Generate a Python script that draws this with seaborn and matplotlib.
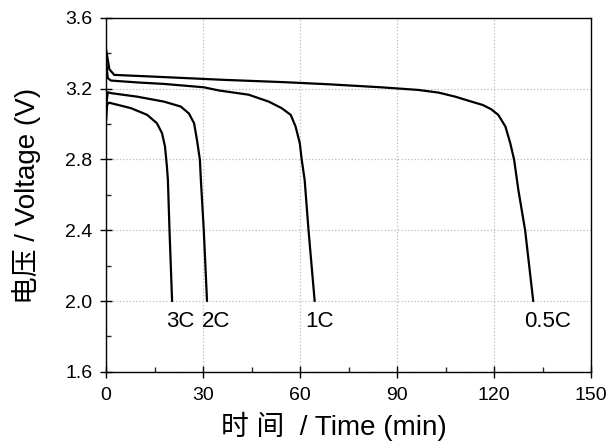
import numpy as np
import pandas as pd
import matplotlib
matplotlib.use('Agg')
import matplotlib.pyplot as plt
from matplotlib.ticker import MultipleLocator, FormatStrFormatter
import seaborn as sns

# discharge curves (time in min, voltage in V)
rates = ['0.5C', '1C', '2C', '3C']

t_05 = [0, 1.0, 2.5, 15, 36.4, 55, 68.8, 85, 96.6, 102.8, 108, 113, 116.5,
        119.1, 121.3, 123.5, 125, 126.2, 127.5, 129.6, 132.1]
v_05 = [3.42, 3.31, 3.278, 3.268, 3.25, 3.237, 3.225, 3.208, 3.193, 3.178, 3.155, 3.127, 3.108,
        3.084, 3.052, 2.986, 2.892, 2.798, 2.628, 2.40, 2.00]

t_1 = [0, 0.5, 1.5, 10, 17.9, 30.2, 34.9, 44.1, 50.3, 54.3, 57.1, 58.6, 59.9,
       60.5, 61.4, 62.6, 64.5]
v_1 = [3.36, 3.26, 3.246, 3.235, 3.227, 3.208, 3.19, 3.166, 3.127, 3.09, 3.052, 2.986, 2.892,
       2.798, 2.685, 2.40, 2.00]

t_2 = [0, 0.5, 1.5, 9.6, 17.9, 23.1, 25.6, 27.2, 28.1, 29.0, 29.3, 30.2, 31.2]
v_2 = [3.10, 3.18, 3.175, 3.155, 3.127, 3.099, 3.06, 3.005, 2.91, 2.798, 2.685, 2.40, 2.00]

t_3 = [0, 0.3, 0.9, 7.7, 12.7, 15.7, 17.3, 18.2, 18.8, 19.1, 19.6, 20.4]
v_3 = [3.02, 3.11, 3.121, 3.09, 3.052, 3.005, 2.948, 2.873, 2.76, 2.685, 2.40, 2.00]

# label positions for the rate annotations
label_x = [136.4, 66.0, 34.1, 22.8]
label_y = [1.885, 1.885, 1.885, 1.885]

curves = [(t_05, v_05), (t_1, v_1), (t_2, v_2), (t_3, v_3)]
frames = []
for rate, (t, v) in zip(rates, curves):
    frames.append(pd.DataFrame({'time': t, 'voltage': v, 'rate': rate}))
df = pd.concat(frames, ignore_index=True)

sns.set_style('ticks')
plt.rcParams['font.family'] = ['Liberation Sans', 'Noto Sans CJK SC', 'DejaVu Sans']
plt.rcParams['axes.labelcolor'] = 'black'
plt.rcParams['text.color'] = 'black'

fig = plt.figure(figsize=(6.1, 4.48), dpi=100)
ax = fig.add_axes([0.174, 0.170, 0.795, 0.790])

sns.lineplot(data=df, x='time', y='voltage', hue='rate', units='rate',
             estimator=None, sort=False, palette=['black'] * 4,
             linewidth=1.6, legend=False, ax=ax)

for rate, x, y in zip(rates, label_x, label_y):
    ax.text(x, y, rate, ha='center', va='center', fontsize=16, color='black')

ax.set_xlim(0, 150)
ax.set_ylim(1.6, 3.6)
ax.xaxis.set_major_locator(MultipleLocator(30))
ax.xaxis.set_minor_locator(MultipleLocator(15))
ax.yaxis.set_major_locator(MultipleLocator(0.4))
ax.yaxis.set_minor_locator(MultipleLocator(0.2))
ax.yaxis.set_major_formatter(FormatStrFormatter('%.1f'))

ax.grid(True, which='major', color='#bbbbbb', linestyle=':', linewidth=0.9)
for s in ax.spines.values():
    s.set_color('black')
    s.set_linewidth(1.0)
ax.tick_params(which='major', direction='inout', length=8, width=1,
               labelsize=14, colors='black')
ax.tick_params(axis='x', which='major', pad=7)
ax.tick_params(axis='y', which='major', pad=6)
ax.tick_params(which='minor', direction='in', length=3.5, width=1)

ax.set_xlabel('时 间  / Time (min)', fontsize=20)
ax.set_ylabel('电压 / Voltage (V)', fontsize=20)
ax.xaxis.set_label_coords(0.469, -0.112)
ax.yaxis.set_label_coords(-0.134, 0.497)

fig.savefig('out.png', dpi=100)
